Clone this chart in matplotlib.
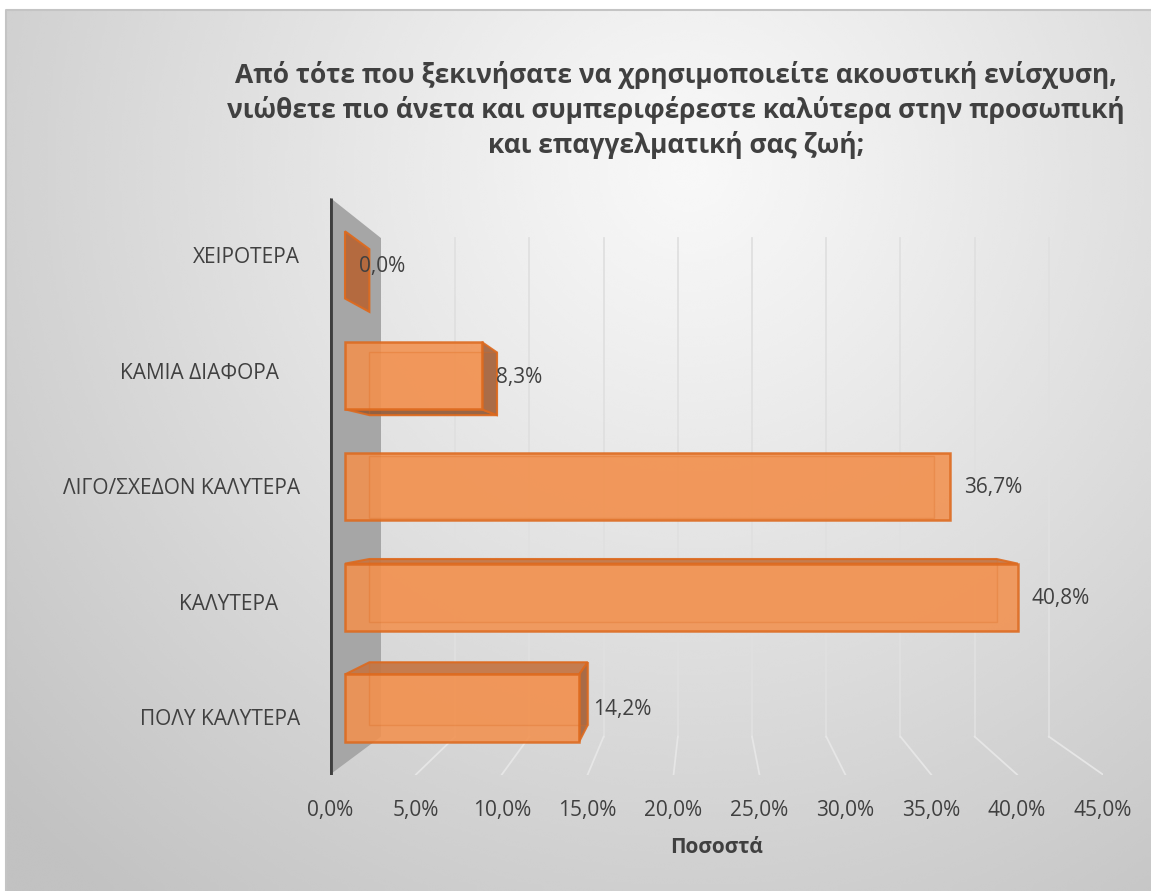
import matplotlib.pyplot as plt
from matplotlib.patches import Polygon
import numpy as np

plt.rcParams['font.family'] = ['Open Sans', 'DejaVu Sans']

# survey answers, bottom row first
categories = ["ΠΟΛΥ ΚΑΛΥΤΕΡΑ", "ΚΑΛΥΤΕΡΑ    ", "ΛΙΓΟ/ΣΧΕΔΟΝ ΚΑΛΥΤΕΡΑ",
              "ΚΑΜΙΑ ΔΙΑΦΟΡΑ    ", "ΧΕΙΡΟΤΕΡΑ"]
percentages = [14.2, 40.8, 36.7, 8.3, 0.0]
x_ticks = [0, 5, 10, 15, 20, 25, 30, 35, 40, 45]
x_label = "Ποσοστά"
title = ("Από τότε που ξεκινήσατε να χρησιμοποιείτε ακουστική ενίσχυση,\n"
         "νιώθετε πιο άνετα και συμπεριφέρεστε καλύτερα στην προσωπική\n"
         "και επαγγελματική σας ζωή;")

# fake 3d: everything is scaled toward a vanishing point by a depth factor
VP_X, VP_Y = 21.83, 1.92
WALL_DEPTH = 0.864
BAR_FRONT = 0.96
BAR_BACK = 0.895
BAR_H = 0.607

TEXT = "#404040"
ORANGE = "#f2914f"
EDGE = "#dd6a1f"


def proj(x, y, s):
    return VP_X + s * (x - VP_X), VP_Y + s * (y - VP_Y)


def quad(pts, s_list):
    return [proj(x, y, s) for (x, y), s in zip(pts, s_list)]


def pct(v):
    return f"{v:.1f}%".replace('.', ',')


W, H = 1151, 891
fig = plt.figure(figsize=(W / 100, H / 100), dpi=100)

# chart area with a soft radial gradient
bg = fig.add_axes([6 / W, 0, 1 - 6 / W, 1 - 10 / H])
gx, gy = np.meshgrid(np.linspace(6, W, 400), np.linspace(10, H, 320))
dist = np.hypot(gx - 690, gy - 170) / 930
shade = 248 - 54 * np.clip(dist, 0, 1) ** 1.1
bg.imshow(shade, cmap='gray', vmin=0, vmax=255, aspect='auto',
          extent=[0, 1, 1, 0], interpolation='bicubic')
bg.plot([0, 0, 1], [1, 0, 0], color="#c4c4c4", lw=1.5, clip_on=False)
bg.set_xlim(0, 1)
bg.set_ylim(1, 0)
bg.axis('off')

ax = fig.add_axes([330 / W, (H - 774.6) / H, 773 / W, 577 / H])
ax.set_xlim(0, 45)
ax.set_ylim(-0.5, 4.5)
ax.patch.set_visible(False)
for sp in ax.spines.values():
    sp.set_visible(False)

# gridlines on the back wall and across the floor
for v in x_ticks[1:]:
    (xb0, yb0), (xb1, yb1) = proj(v, -0.5, WALL_DEPTH), proj(v, 4.5, WALL_DEPTH)
    ax.plot([xb0, xb1], [yb0, yb1], color="#e0e0e0", lw=1.3, zorder=1)
    xf, yf = proj(v, -0.5, 1.0)
    ax.plot([xb0, xf], [yb0, yf], color="#e6e6e6", lw=1.3, zorder=1)

# grey side wall at zero
wall = quad([(0, -0.5), (0, 4.5), (0, 4.5), (0, -0.5)],
            [1.0, 1.0, WALL_DEPTH, WALL_DEPTH])
ax.add_patch(Polygon(wall, closed=True, facecolor="#a6a6a6", edgecolor='none', zorder=2))
ax.plot([0, 0], [-0.5, 4.5], color="#3f3f3f", lw=3.5, zorder=3, solid_capstyle='butt')

# boxes
for i, v in enumerate(percentages):
    y0, y1 = i - BAR_H / 2, i + BAR_H / 2
    front = quad([(0, y0), (v, y0), (v, y1), (0, y1)], [BAR_FRONT] * 4)
    back = quad([(0, y0), (v, y0), (v, y1), (0, y1)], [BAR_BACK] * 4)
    z = 4 + i * 0.1

    if v == 0:
        end = quad([(0, y0), (0, y1), (0, y1), (0, y0)],
                   [BAR_FRONT, BAR_FRONT, BAR_BACK, BAR_BACK])
        ax.add_patch(Polygon(end, closed=True, facecolor="#b5673a", edgecolor=EDGE,
                             lw=1.5, alpha=0.95, zorder=z))
    else:
        ax.add_patch(Polygon(back, closed=True, facecolor=ORANGE, edgecolor='none',
                             alpha=0.35, zorder=z))
        if y1 < VP_Y:
            top = quad([(0, y1), (v, y1), (v, y1), (0, y1)],
                       [BAR_FRONT, BAR_FRONT, BAR_BACK, BAR_BACK])
            ax.add_patch(Polygon(top, closed=True, facecolor="#c27545", edgecolor=EDGE,
                                 lw=1.5, alpha=0.9, zorder=z + 0.01))
        if y0 > VP_Y:
            bot = quad([(0, y0), (v, y0), (v, y0), (0, y0)],
                       [BAR_FRONT, BAR_FRONT, BAR_BACK, BAR_BACK])
            ax.add_patch(Polygon(bot, closed=True, facecolor="#8f5a3a", edgecolor=EDGE,
                                 lw=1.5, alpha=0.9, zorder=z + 0.01))
        if v < VP_X:
            side = quad([(v, y0), (v, y1), (v, y1), (v, y0)],
                        [BAR_FRONT, BAR_FRONT, BAR_BACK, BAR_BACK])
            ax.add_patch(Polygon(side, closed=True, facecolor="#a3623c", edgecolor=EDGE,
                                 lw=1.5, alpha=0.9, zorder=z + 0.02))
        ax.add_patch(Polygon(front, closed=True, facecolor=ORANGE, edgecolor=EDGE,
                             lw=1.8, alpha=0.88, zorder=z + 0.03))
        # back edges showing through the translucent front
        ax.add_patch(Polygon(back, closed=True, fill=False, edgecolor=EDGE,
                             lw=1.0, alpha=0.3, zorder=z + 0.04))

    lx, ly = proj(v, i, BAR_FRONT)
    ax.annotate(pct(v), (lx, ly), xytext=(10, -1),
                textcoords='offset points', ha='left', va='center',
                fontsize=15, color=TEXT, zorder=10)

ax.set_xticks(x_ticks)
ax.set_xticklabels([pct(t) for t in x_ticks])
ax.set_yticks(range(len(categories)))
ax.set_yticklabels(categories)
ax.tick_params(axis='x', length=0, pad=18, labelsize=15, labelcolor=TEXT)
ax.tick_params(axis='y', length=0, pad=21.5, labelsize=15, labelcolor=TEXT)
ax.set_xlabel(x_label, fontsize=15, fontweight='bold', color=TEXT, labelpad=12)

fig.text(676 / W, 1 - 110 / H, title, ha='center', va='center', fontsize=19,
         fontweight='bold', color=TEXT, linespacing=1.3)

fig.savefig("out.png", dpi=100)
